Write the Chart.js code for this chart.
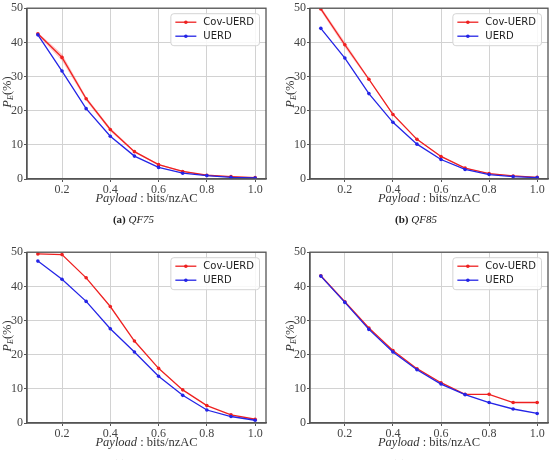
<!DOCTYPE html>
<html>
<head>
<meta charset="utf-8">
<script src="https://cdn.jsdelivr.net/npm/chart.js@4.4.1/dist/chart.umd.min.js"></script>
<style>
    html, body { margin: 0; padding: 0; background: #fff; }
    body {
        width: 552px; height: 460px; position: relative; overflow: hidden;
        font-family: "Liberation Serif", "DejaVu Serif", serif; color: #333;
    }
    canvas { position: absolute; }
    .xtitle, .ytitle, .caption { position: absolute; white-space: nowrap; line-height: 1; }
    .xtitle { font-size: 12.5px; transform: translateX(-50%); }
    .ytitle { font-size: 12.5px; transform: translate(-50%, -50%) rotate(-90deg); }
    .caption { font-size: 11px; transform: translateX(-50%); color: #222; }
    i { font-style: italic; }
    sub { font-size: 8px; font-style: italic; vertical-align: -2px; }
</style>
</head>
<body>
<canvas id="chart-qf75"></canvas>
<canvas id="chart-qf85"></canvas>
<canvas id="chart-qf95"></canvas>
<canvas id="chart-qf100"></canvas>

<script>
// Payload values (bits/nzAC) and tick labels
const payloads = [0.1, 0.2, 0.3, 0.4, 0.5, 0.6, 0.7, 0.8, 0.9, 1.0];
const xTickLabels = ['0.2', '0.4', '0.6', '0.8', '1.0'];
const yTickLabels = ['0', '10', '20', '30', '40', '50'];
const seriesNames = ['Cov-UERD', 'UERD'];

// QF75
const qf75Cov = [42.5, 35.6, 23.5, 14.5, 8.0, 4.2, 2.2, 1.1, 0.7, 0.4];
const qf75CovLow = [42.1, 34.6, 22.9, 14.0, 7.7, 4.0, 2.0, 1.0, 0.6, 0.3];
const qf75CovHigh = [42.9, 36.6, 24.1, 15.0, 8.3, 4.4, 2.4, 1.2, 0.8, 0.5];
const qf75Uerd = [42.2, 31.6, 20.6, 12.5, 6.7, 3.4, 1.7, 1.0, 0.5, 0.3];

// QF85
const qf85Cov = [49.8, 39.3, 29.2, 18.9, 11.6, 6.6, 3.2, 1.6, 0.9, 0.5];
const qf85CovLow = [49.2, 38.5, 28.8, 18.6, 11.4, 6.4, 3.1, 1.5, 0.8, 0.4];
const qf85CovHigh = [50.4, 40.1, 29.6, 19.2, 11.8, 6.8, 3.3, 1.7, 1.0, 0.6];
const qf85Uerd = [44.1, 35.4, 25.0, 16.6, 10.2, 5.7, 2.8, 1.3, 0.7, 0.4];

// QF95
const qf95Cov = [49.5, 49.3, 42.5, 34.1, 24.0, 16.0, 9.7, 5.1, 2.4, 1.1];
const qf95Uerd = [47.4, 42.1, 35.6, 27.6, 20.8, 13.7, 8.1, 3.8, 1.9, 0.8];

// QF100
const qf100Cov = [43.1, 35.5, 27.8, 21.2, 15.9, 11.8, 8.4, 8.4, 6.0, 6.0];
const qf100Uerd = [43.0, 35.3, 27.4, 20.8, 15.6, 11.4, 8.3, 6.0, 4.1, 2.8];

(function() {
    'use strict';

    const RED = '#ee2020';
    const BLUE = '#2424e6';
    const SPINE = '#555';
    const TICK_FONT = { family: '"Liberation Serif", "DejaVu Serif", serif', size: 12 };

    const panels = [
        { id: 'chart-qf75', left: 0, top: 0, width: 276, padRight: 10, cov: qf75Cov, uerd: qf75Uerd,
          low: qf75CovLow, high: qf75CovHigh, tag: '(a)', qf: 'QF75' },
        { id: 'chart-qf85', left: 283, top: 0, width: 269, padRight: 4, cov: qf85Cov, uerd: qf85Uerd,
          low: qf85CovLow, high: qf85CovHigh, tag: '(b)', qf: 'QF85' },
        { id: 'chart-qf95', left: 0, top: 244, width: 276, padRight: 10, cov: qf95Cov, uerd: qf95Uerd,
          tag: '(c)', qf: 'QF95' },
        { id: 'chart-qf100', left: 283, top: 244, width: 269, padRight: 4, cov: qf100Cov, uerd: qf100Uerd,
          tag: '(d)', qf: 'QF100' }
    ];

    const CANVAS_H = 210;
    const Y_AXIS_W = 27;
    const X_AXIS_H = 31;
    const PAD_TOP = 5;

    /**
     * Frame (all four spines) and matplotlib style legend
     */
    const framePlugin = {
        id: 'frame',
        afterDatasetsDraw(chart) {
            const a = chart.chartArea;
            const ctx = chart.ctx;
            ctx.save();
            ctx.strokeStyle = SPINE;
            ctx.lineWidth = 1.3;
            ctx.strokeRect(a.left, a.top, a.right - a.left, a.bottom - a.top);
            ctx.restore();
        },
        afterDraw(chart) {
            const a = chart.chartArea;
            const ctx = chart.ctx;
            const items = chart.data.datasets.filter(ds => !ds.isBand);
            ctx.save();
            ctx.font = '10px "DejaVu Sans", sans-serif';
            const textW = Math.max.apply(null, items.map(ds => ctx.measureText(ds.label).width));
            const w = 4 + 20 + 8 + textW + 6;
            const h = 32;
            const x = a.right - 7 - w;
            const y = a.top + 5;

            ctx.fillStyle = 'rgba(255,255,255,0.85)';
            ctx.strokeStyle = '#d4d4d4';
            ctx.lineWidth = 1;
            ctx.beginPath();
            ctx.roundRect(x + 0.5, y + 0.5, w, h, 3);
            ctx.fill();
            ctx.stroke();

            items.forEach((ds, i) => {
                const ry = y + 9 + i * 14;
                ctx.strokeStyle = ds.borderColor;
                ctx.lineWidth = 1.3;
                ctx.beginPath();
                ctx.moveTo(x + 5, ry);
                ctx.lineTo(x + 26, ry);
                ctx.stroke();
                ctx.fillStyle = ds.borderColor;
                ctx.beginPath();
                ctx.arc(x + 15.5, ry, 1.8, 0, Math.PI * 2);
                ctx.fill();
                ctx.fillStyle = '#222';
                ctx.textBaseline = 'middle';
                ctx.fillText(ds.label, x + 33, ry + 0.5);
            });
            ctx.restore();
        }
    };

    /**
     * Build datasets for one panel
     */
    function buildDatasets(p) {
        const toPoints = arr => arr.map((v, i) => ({ x: payloads[i], y: v }));
        const line = (label, values, color, order) => ({
            label: label,
            data: toPoints(values),
            borderColor: color,
            backgroundColor: color,
            borderWidth: 1.3,
            pointRadius: 1.8,
            pointBorderWidth: 0,
            pointBackgroundColor: color,
            tension: 0,
            fill: false,
            order: order
        });
        const sets = [
            line(seriesNames[0], p.cov, RED, 1),
            line(seriesNames[1], p.uerd, BLUE, 0)
        ];
        if (p.low) {
            const band = (values, fill) => ({
                isBand: true,
                label: '',
                data: toPoints(values),
                borderWidth: 0,
                borderColor: 'rgba(0,0,0,0)',
                pointRadius: 0,
                backgroundColor: 'rgba(255,40,40,0.28)',
                fill: fill,
                order: 2
            });
            sets.push(band(p.low, false));
            sets.push(band(p.high, '-1'));
        }
        return sets;
    }

    /**
     * Create one subplot
     */
    function initPanel(p) {
        const canvas = document.getElementById(p.id);
        canvas.style.left = p.left + 'px';
        canvas.style.top = p.top + 'px';
        canvas.style.width = p.width + 'px';
        canvas.style.height = CANVAS_H + 'px';
        canvas.width = p.width;
        canvas.height = CANVAS_H;

        new Chart(canvas.getContext('2d'), {
            type: 'line',
            data: { datasets: buildDatasets(p) },
            options: {
                responsive: false,
                animation: false,
                events: [],
                layout: { padding: { top: PAD_TOP, right: p.padRight, left: 0, bottom: 0 } },
                plugins: { legend: { display: false }, tooltip: { enabled: false } },
                scales: {
                    x: {
                        type: 'linear',
                        min: 0.055,
                        max: 1.045,
                        afterBuildTicks: scale => {
                            scale.ticks = xTickLabels.map(t => ({ value: parseFloat(t) }));
                        },
                        afterFit: scale => { scale.height = X_AXIS_H; },
                        ticks: {
                            autoSkip: false,
                            maxRotation: 0,
                            padding: 1,
                            color: '#444',
                            font: TICK_FONT,
                            callback: (v, i) => xTickLabels[i]
                        },
                        grid: { color: '#d2d2d2', lineWidth: 1, tickLength: 3, tickColor: SPINE },
                        border: { color: SPINE, width: 1.3 }
                    },
                    y: {
                        min: 0,
                        max: 50,
                        afterBuildTicks: scale => {
                            scale.ticks = yTickLabels.map(t => ({ value: parseFloat(t) }));
                        },
                        afterFit: scale => { scale.width = Y_AXIS_W; },
                        ticks: {
                            padding: 1,
                            color: '#444',
                            font: TICK_FONT,
                            callback: (v, i) => yTickLabels[i]
                        },
                        grid: { color: '#d2d2d2', lineWidth: 1, tickLength: 3, tickColor: SPINE },
                        border: { color: SPINE, width: 1.3 }
                    }
                }
            },
            plugins: [framePlugin]
        });

        // Axis titles and caption as plain text
        const areaLeft = p.left + Y_AXIS_W;
        const areaRight = p.left + p.width - p.padRight;
        const areaTop = p.top + PAD_TOP;
        const areaBottom = p.top + CANVAS_H - X_AXIS_H;

        addText('xtitle', (areaLeft + areaRight) / 2, areaBottom + 13,
            '<i>Payload</i> : bits/nzAC');
        addText('ytitle', p.left + 8, (areaTop + areaBottom) / 2,
            '<i>P</i><sub>E</sub>(%)');
        addText('caption', (areaLeft + areaRight) / 2 - 13, p.top + 214,
            '<b>' + p.tag + '</b> <i>' + p.qf + '</i>');
    }

    function addText(cls, x, y, html) {
        const el = document.createElement('div');
        el.className = cls;
        el.style.left = x + 'px';
        el.style.top = y + 'px';
        el.innerHTML = html;
        document.body.appendChild(el);
    }

    panels.forEach(initPanel);
})();
</script>
</body>
</html>
